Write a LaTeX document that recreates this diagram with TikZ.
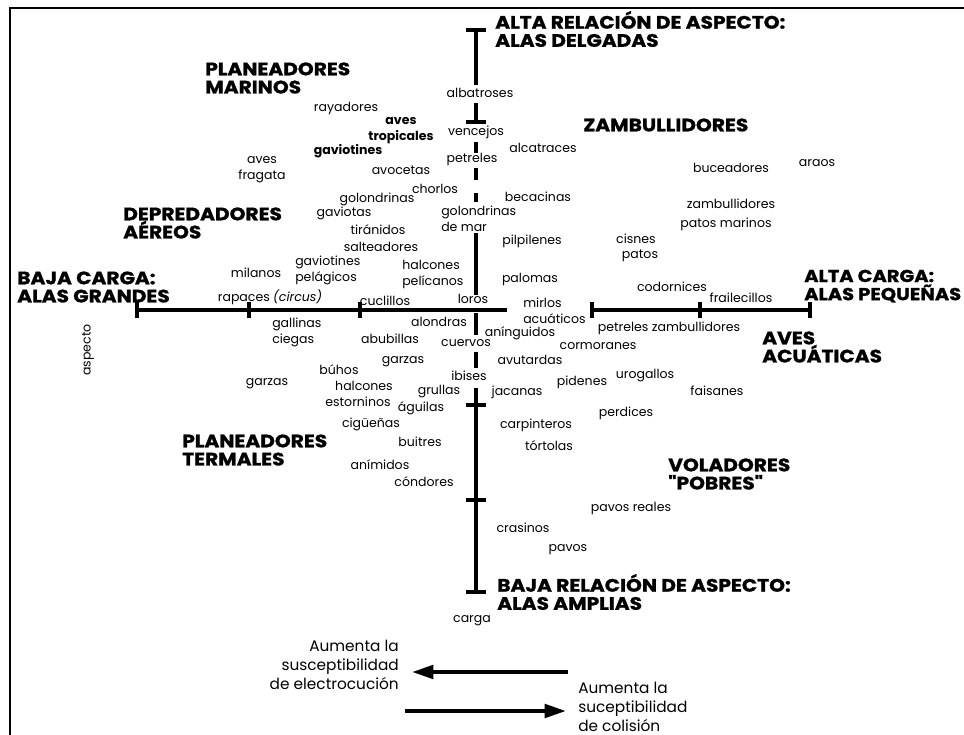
\documentclass[tikz,border=0pt]{standalone}
\usepackage{fontspec}
\setmainfont{Poppins}
\newfontfamily\heavyfont{Poppins}[FakeStretch=1.12, BoldFeatures={FakeBold=1.2}]
\usetikzlibrary{arrows.meta}

\tikzset{
  bird/.style={font=\fontsize{9.4}{12}\selectfont, inner sep=0pt, align=center},
  birdbold/.style={bird, font=\fontsize{9.4}{12}\selectfont\bfseries},
  group/.style={font=\heavyfont\bfseries\fontsize{13.5}{13.6}\selectfont, inner sep=0pt, align=left, anchor=west},
  trend/.style={font=\fontsize{11.5}{14}\selectfont, inner sep=0pt},
  axis/.style={line width=3pt},
}

\begin{document}
\begin{tikzpicture}[x=0.75pt,y=-0.75pt]
  \useasboundingbox (0,0) rectangle (964,735);
  % Frame
  \draw[line width=1.8pt] (10,735) -- (10,8) -- (964,8);

  % Vertical axis: aspect ratio
  \foreach \ya/\yb in {30/85, 103/122, 142/153, 168/180, 193/202, 233/295, 313/335, 352/368, 388/592}
    \draw[axis] (476,\ya) -- (476,\yb);
  \foreach \yt in {30, 122, 405, 500, 592}
    \draw[axis] (466,\yt) -- (486,\yt);

  % Horizontal axis: wing loading
  \draw[axis] (137,310) -- (507,310);
  \draw[axis] (592,310) -- (810,310);
  \foreach \xt in {137, 249, 360, 592, 700, 810}
    \draw[axis] (\xt,302) -- (\xt,318);

  % Groups
  \node[group] (altarel) at (495,29) {ALTA RELACIÓN DE ASPECTO:\\ALAS DELGADAS};
  \node[group] (marinos) at (205,78) {PLANEADORES\\MARINOS};
  \node[group] (zambullidores) at (583,125) {ZAMBULLIDORES};
  \node[group] (depredadores) at (123,223) {DEPREDADORES\\AÉREOS};
  \node[group] (bajacarga) at (17,287) {BAJA CARGA:\\ALAS GRANDES};
  \node[group, font=\heavyfont\bfseries\fontsize{13}{13.6}\selectfont] (altacarga) at (804,286) {ALTA CARGA:\\ALAS PEQUEÑAS};
  \node[group] (acuaticas) at (762,347) {AVES\\ACUÁTICAS};
  \node[group] (termales) at (182,450) {PLANEADORES\\TERMALES};
  \node[group] (voladores) at (668,474) {VOLADORES\\"POBRES"};
  \node[group] (bajarel) at (497,592) {BAJA RELACIÓN DE ASPECTO:\\ALAS AMPLIAS};

  % Birds, upper half
  \node[bird] (albatroses) at (480,93) {albatroses};
  \node[bird] (vencejos) at (476,132) {vencejos};
  \node[bird] (alcatraces) at (543,148) {alcatraces};
  \node[bird] (petreles) at (472,159) {petreles};
  \node[bird] (araos) at (817,163) {araos};
  \node[bird] (buceadores) at (731,168) {buceadores};
  \node[bird] (becacinas) at (538,197) {becacinas};
  \node[bird] (zambu) at (731,204) {zambullidores};
  \node[bird, anchor=west, align=left] (golmar) at (441,219) {golondrinas\\de mar};
  \node[bird] (patosmar) at (726,224) {patos marinos};
  \node[bird] (cisnes) at (636,239) {cisnes};
  \node[bird] (pilpilenes) at (532,241) {pilpilenes};
  \node[bird] (patos) at (640,256) {patos};
  \node[bird] (rayadores) at (346,108) {rayadores};
  \node[birdbold] (tropicales) at (401,131) {aves\\tropicales};
  \node[birdbold] (gaviotines) at (348,151) {gaviotines};
  \node[bird] (fragata) at (262,170) {aves\\fragata};
  \node[bird] (avocetas) at (401,170) {avocetas};
  \node[bird] (chorlos) at (435,189) {chorlos};
  \node[bird] (golondrinas) at (377,199) {golondrinas};
  \node[bird] (gaviotas) at (344,213) {gaviotas};
  \node[bird] (tiranidos) at (378,230) {tiránidos};
  \node[bird] (salteadores) at (381,247) {salteadores};
  \node[bird] (milanos) at (256,273) {milanos};
  \node[bird, anchor=west, align=left] (pelagicos) at (295,270) {gaviotines\\pelágicos};
  \node[bird, anchor=west, align=left] (pelicanos) at (402,274) {halcones\\pelícanos};
  \node[bird] (palomas) at (530,279) {palomas};
  \node[bird] (codornices) at (672,287) {codornices};
  \node[bird] (rapaces) at (270,297) {rapaces \textit{(circus)}};
  \node[bird] (frailecillos) at (741,298) {frailecillos};
  \node[bird] (loros) at (473,299) {loros};
  \node[bird] (cuclillos) at (385,301) {cuclillos};
  \node[bird, anchor=west, align=left] (mirlos) at (523,311) {mirlos\\acuáticos};

  % Birds, lower half
  \node[bird] (alondras) at (439,322) {alondras};
  \node[bird] (petzamb) at (669,328) {petreles zambullidores};
  \node[bird, anchor=west, align=left] (gallinas) at (272,332) {gallinas\\ciegas};
  \node[bird] (aninguidos) at (520,333) {anínguidos};
  \node[bird] (abubillas) at (390,339) {abubillas};
  \node[bird] (cuervos) at (466,343) {cuervos};
  \node[bird] (cormoranes) at (598,346) {cormoranes};
  \node[bird] (avutardas) at (530,360) {avutardas};
  \node[bird] (garzasa) at (403,362) {garzas};
  \node[bird] (buhos) at (339,370) {búhos};
  \node[bird] (ibises) at (469,376) {ibises};
  \node[bird] (urogallos) at (645,376) {urogallos};
  \node[bird] (pidenes) at (582,382) {pidenes};
  \node[bird] (garzasb) at (267,384) {garzas};
  \node[bird] (halcones) at (364,386) {halcones};
  \node[bird] (faisanes) at (717,391) {faisanes};
  \node[bird] (grullas) at (439,392) {grullas};
  \node[bird] (jacanas) at (517,392) {jacanas};
  \node[bird] (estorninos) at (358,402) {estorninos};
  \node[bird] (aguilas) at (421,408) {águilas};
  \node[bird] (perdices) at (626,413) {perdices};
  \node[bird] (ciguenas) at (371,424) {cigüeñas};
  \node[bird] (carpinteros) at (536,425) {carpinteros};
  \node[bird] (buitres) at (420,442) {buitres};
  \node[bird] (tortolas) at (549,446) {tórtolas};
  \node[bird] (animidos) at (380,465) {anímidos};
  \node[bird] (condores) at (424,482) {cóndores};
  \node[bird] (pavosreales) at (631,508) {pavos reales};
  \node[bird] (crasinos) at (523,528) {crasinos};
  \node[bird] (pavos) at (568,550) {pavos};
  \node[bird] (carga) at (472,621) {carga};
  \node[bird, rotate=90] (aspecto) at (88,350) {aspecto};

  % Trends
  \node[trend, anchor=east, align=right] (electro) at (399,665) {Aumenta la\\susceptibilidad\\de electrocución};
  \node[trend, anchor=west, align=left] (colision) at (578,707) {Aumenta la\\suceptibilidad\\de colisión};
  \coordinate (eleca) at (568,672);
  \coordinate (elecb) at (412,672);
  \coordinate (cola) at (405,711);
  \coordinate (colb) at (566,711);
  \draw[line width=3pt, -{Triangle[length=16pt,width=10pt]}] (eleca) -- (elecb);
  \draw[line width=3pt, -{Triangle[length=16pt,width=10pt]}] (cola) -- (colb);
\end{tikzpicture}
\end{document}
